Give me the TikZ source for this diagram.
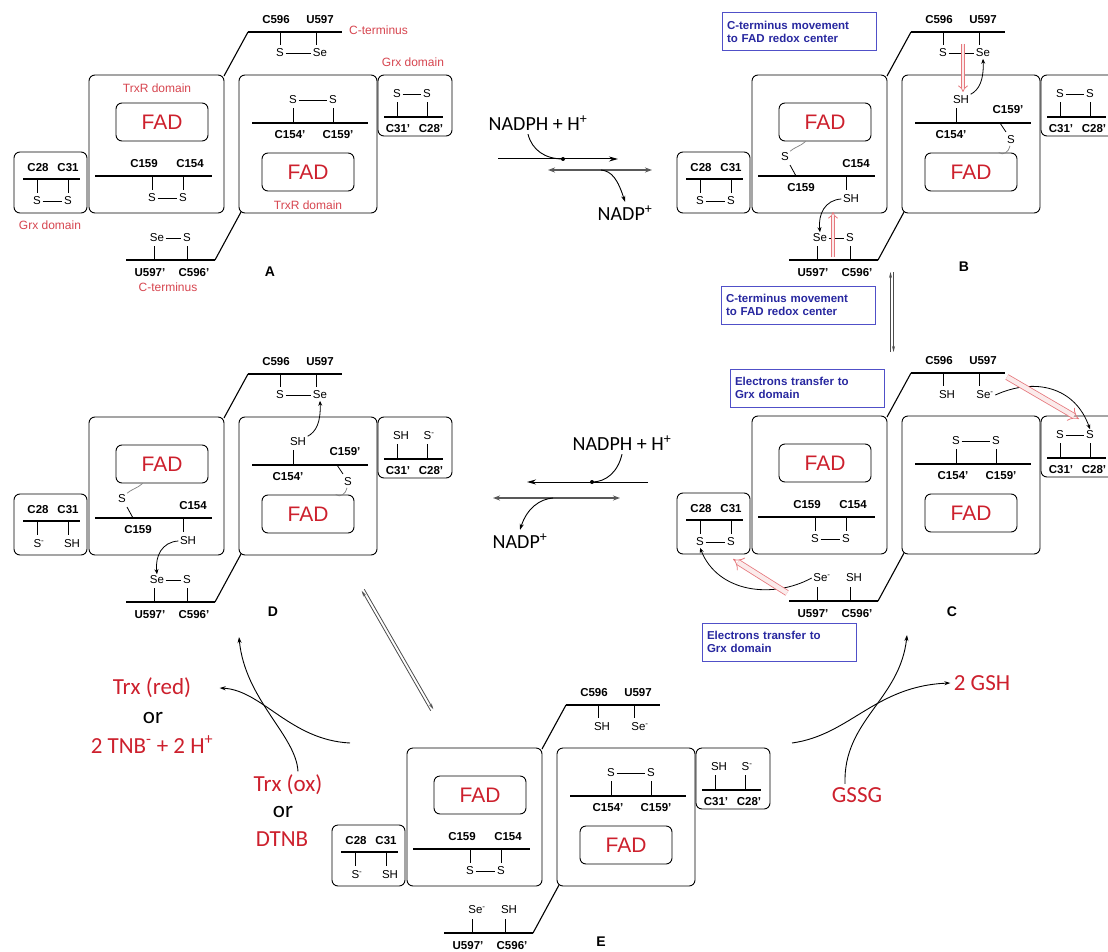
\documentclass[tikz,border=0pt]{standalone}
\usepackage{fontspec}
\setmainfont{Liberation Sans}
\newfontfamily\calfont{Carlito}
\usetikzlibrary{arrows.meta}

\definecolor{fadred}{RGB}{205,32,45}
\definecolor{lblred}{RGB}{215,70,80}
\definecolor{noteblue}{RGB}{80,80,200}
\definecolor{notetext}{RGB}{40,40,160}
\definecolor{movepink}{RGB}{230,120,125}

\tikzset{
  dom/.style={draw, rounded corners=6pt, line width=.9pt},
  fadbox/.style={draw, rounded corners=6pt, line width=.9pt, minimum width=92pt,
    minimum height=38pt, text=fadred, font=\fontsize{21}{21}\selectfont},
  bar/.style={line width=1.8pt},
  arm/.style={line width=1.1pt},
  tick/.style={line width=.8pt},
  res/.style={font=\fontsize{11.5}{12}\selectfont\bfseries, inner sep=0pt},
  atom/.style={font=\fontsize{11.5}{12}\selectfont, inner sep=1.5pt},
  domlbl/.style={font=\fontsize{12}{12}\selectfont, text=lblred, inner sep=0pt},
  stage/.style={font=\fontsize{14}{14}\selectfont\bfseries},
  note/.style={draw=noteblue, line width=1pt, text=notetext, align=left,
    font=\fontsize{11.5}{13}\selectfont\bfseries, text width=144pt, inner sep=5pt,
    minimum height=38pt},
  rxnlbl/.style={font=\calfont\fontsize{20}{22}\selectfont},
  chem/.style={font=\calfont\fontsize{23}{26}\selectfont, text=fadred},
  eflow/.style={line width=.8pt, -{Stealth[length=5pt,width=4pt]}},
  fadlink/.style={gray, line width=.7pt},
  move/.style={draw=movepink, double=movepink!15, line width=.8pt,
    double distance=2.6pt, -{Implies}},
  band/.style={move, double distance=4.5pt},
  rxn/.style={line width=1pt, -{Stealth[length=9pt,width=5pt]}},
  rxnrev/.style={line width=2pt, gray!70!black,
    {Stealth[length=7pt,width=5pt]}-{Stealth[length=7pt,width=5pt]}},
  curvy/.style={line width=.9pt, -{Stealth[length=6pt,width=4pt]}},
  eqm/.style={line width=.8pt, gray!60!black, -{Stealth[length=6pt,width=3pt]}}
}

% boxes, chains and fixed residue names of one enzyme dimer
\newcommand\panelframe[1]{%
  \draw[dom] (14,152) rectangle (87,213);
  \draw[dom] (89,75) rectangle (224,213);
  \draw[dom] (239,75) rectangle (377,213);
  \draw[dom] (378,75) rectangle (452,136);
  \node[fadbox] (#1lfad) at (162,122) {FAD};
  \node[fadbox] (#1rfad) at (308,172) {FAD};
  \draw[arm] (224,76) -- (248,32);
  \draw[arm] (241,212) -- (215,260);
  \draw[bar] (248,32) -- (342,32);
  \draw[bar] (126,260) -- (215,260);
  \draw[bar] (95,176) -- (212,176);
  \draw[bar] (252,123) -- (368,123);
  \draw[bar] (23,179) -- (80,179);
  \draw[bar] (384,117) -- (443,117);
  \draw[tick] (280,32) -- ++(0,13) (316,32) -- ++(0,13)
              (154,260) -- ++(0,-14) (187,260) -- ++(0,-14)
              (37,179) -- ++(0,14) (68,179) -- ++(0,14)
              (397,117) -- ++(0,-15) (427,117) -- ++(0,-15)
              (183,176) -- ++(0,14) (293,123) -- ++(0,-15);
  \node[res] (#1c596) at (276,20) {C596};
  \node[res] (#1u597) at (320,20) {U597};
  \node[res] (#1u597b) at (150,273) {U597'};
  \node[res] (#1c596b) at (194,273) {C596'};
  \node[res] (#1c28) at (38,168) {C28};
  \node[res] (#1c31) at (68,168) {C31};
  \node[res] (#1c31b) at (398,129) {C31'};
  \node[res] (#1c28b) at (431,129) {C28'};
}
% C159/C154 disulfide
\newcommand\lchainclosed[1]{%
  \draw[tick] (152,176) -- ++(0,14);
  \node[res] (#1c159) at (144,164) {C159};
  \node[res] (#1c154) at (190,164) {C154};
  \node[atom] (#1La) at (152,198) {S};
  \node[atom] (#1Lb) at (183,198) {S};
  \draw[tick] (#1La) -- (#1Lb);
}
\newcommand\rchainclosed[1]{%
  \draw[tick] (333,123) -- ++(0,-15);
  \node[res] (#1c154b) at (290,135) {C154'};
  \node[res] (#1c159b) at (338,135) {C159'};
  \node[atom] (#1Ra) at (293,100) {S};
  \node[atom] (#1Rb) at (333,100) {S};
  \draw[tick] (#1Ra) -- (#1Rb);
}
% C159 thiolate on FAD, C154 thiol
\newcommand\lchainopen[1]{%
  \draw[tick] (133,176) -- (127,165);
  \node[res] (#1c154) at (193,164) {C154};
  \node[res] (#1c159) at (138,188) {C159};
  \node[atom] (#1La) at (122,157) {S};
  \node[atom] (#1Lb) at (188,199) {SH};
  \draw[fadlink] (#1La) .. controls (130,148) and (138,146) .. (#1lfad.225);
}
\newcommand\rchainopen[1]{%
  \draw[tick] (337,123) -- (343,132);
  \node[res] (#1c159b) at (345,110) {C159'};
  \node[res] (#1c154b) at (288,135) {C154'};
  \node[atom] (#1Ra) at (298,100) {SH};
  \node[atom] (#1Rb) at (348,140) {S};
  \draw[fadlink] (#1Rb) .. controls (346,152) and (340,156) .. (#1rfad.35);
}

\begin{document}
\begin{tikzpicture}[x=1pt, y=-1pt]
\useasboundingbox (0,0) rectangle (1108,952);
\fill[white] (0,0) rectangle (1108,952);

% ---- A
\begin{scope}
  \panelframe{a}
  \lchainclosed{a}
  \rchainclosed{a}
  \node[atom] (aTa) at (280,53) {S};
  \node[atom] (aTb) at (320,53) {Se};
  \node[atom] (aGa) at (37,201) {S};
  \node[atom] (aGb) at (68,201) {S};
  \node[atom] (aHa) at (397,94) {S};
  \node[atom] (aHb) at (427,94) {S};
  \node[atom] (aBa) at (157,238) {Se};
  \node[atom] (aBb) at (187,238) {S};
  \draw[tick] (aTa) -- (aTb) (aGa) -- (aGb) (aHa) -- (aHb) (aBa) -- (aBb);
  \node[domlbl, anchor=west] (actop) at (349,30) {C-terminus};
  \node[domlbl] (agrxr) at (413,62) {Grx domain};
  \node[domlbl] (atrxl) at (157,88) {TrxR domain};
  \node[domlbl] (atrxr) at (308,205) {TrxR domain};
  \node[domlbl] (agrxl) at (50,225) {Grx domain};
  \node[domlbl] (actbot) at (168,287) {C-terminus};
  \node[stage] (stA) at (270,272) {A};
\end{scope}

% ---- B
\begin{scope}[shift={(663,0)}]
  \panelframe{b}
  \lchainopen{b}
  \rchainopen{b}
  \node[atom] (bTa) at (280,53) {S};
  \node[atom] (bTb) at (320,53) {Se};
  \node[atom] (bGa) at (37,201) {S};
  \node[atom] (bGb) at (68,201) {S};
  \node[atom] (bHa) at (397,94) {S};
  \node[atom] (bHb) at (427,94) {S};
  \node[atom] (bBa) at (157,238) {Se};
  \node[atom] (bBb) at (187,238) {S};
  \draw[tick] (bTa) -- (bTb) (bGa) -- (bGb) (bHa) -- (bHb) (bBa) -- (bBb);
  \draw[eflow] (bRa.north east) .. controls (316,90) and (321,80) .. (bTb.south);
  \draw[eflow] (bLb.west) .. controls (162,200) and (155,214) .. (bBa.north);
  \coordinate (bmv0) at (300,44);
  \coordinate (bmv1) at (300,92);
  \coordinate (bmv2) at (170,257);
  \coordinate (bmv3) at (170,212);
  \draw[move] (bmv0) -- (bmv1);
  \draw[move] (bmv2) -- (bmv3);
  \node[stage] (stB) at (301,267) {B};
\end{scope}

% ---- C
\begin{scope}[shift={(663,341)}]
  \panelframe{c}
  \lchainclosed{c}
  \rchainclosed{c}
  \node[atom] (cTa) at (284,54) {SH};
  \node[atom] (cTb) at (322,54) {Se\textsuperscript{-}};
  \node[atom] (cGa) at (37,201) {S};
  \node[atom] (cGb) at (68,201) {S};
  \node[atom] (cHa) at (397,94) {S};
  \node[atom] (cHb) at (427,94) {S};
  \node[atom] (cBa) at (159,237) {Se\textsuperscript{-}};
  \node[atom] (cBb) at (191,237) {SH};
  \draw[tick] (cGa) -- (cGb) (cHa) -- (cHb);
  \draw[eflow] (cTb.east) .. controls (372,36) and (412,46) .. (cHb.north);
  \draw[eflow] (cBa.west) .. controls (110,258) and (55,252) .. (cGa.south);
  \coordinate (cmv0) at (344,36);
  \coordinate (cmv1) at (416,78);
  \coordinate (cmv2) at (124,252);
  \coordinate (cmv3) at (70,218);
  \draw[band] (cmv0) -- (cmv1);
  \draw[band] (cmv2) -- (cmv3);
  \node[stage] (stC) at (289,271) {C};
\end{scope}

% ---- D
\begin{scope}[shift={(0,342)}]
  \panelframe{d}
  \lchainopen{d}
  \rchainopen{d}
  \node[atom] (dTa) at (280,53) {S};
  \node[atom] (dTb) at (320,53) {Se};
  \node[atom] (dGa) at (39,202) {S\textsuperscript{-}};
  \node[atom] (dGb) at (72,202) {SH};
  \node[atom] (dHa) at (401,94) {SH};
  \node[atom] (dHb) at (429,94) {S\textsuperscript{-}};
  \node[atom] (dBa) at (157,238) {Se};
  \node[atom] (dBb) at (187,238) {S};
  \draw[tick] (dTa) -- (dTb) (dBa) -- (dBb);
  \draw[eflow] (dRa.north east) .. controls (316,90) and (321,80) .. (dTb.south);
  \draw[eflow] (dLb.west) .. controls (162,200) and (155,214) .. (dBa.north);
  \node[stage] (stD) at (273,270) {D};
\end{scope}

% ---- E
\begin{scope}[shift={(318,673)}]
  \panelframe{e}
  \lchainclosed{e}
  \rchainclosed{e}
  \node[atom] (eTa) at (284,54) {SH};
  \node[atom] (eTb) at (322,54) {Se\textsuperscript{-}};
  \node[atom] (eGa) at (39,202) {S\textsuperscript{-}};
  \node[atom] (eGb) at (72,202) {SH};
  \node[atom] (eHa) at (401,94) {SH};
  \node[atom] (eHb) at (429,94) {S\textsuperscript{-}};
  \node[atom] (eBa) at (159,237) {Se\textsuperscript{-}};
  \node[atom] (eBb) at (191,237) {SH};
  \node[stage] (stE) at (283,269) {E};
\end{scope}

% ---- notes
\node[note] (noteB) at (799,32) {C-terminus movement\\to FAD redox center};
\node[note] (noteC1) at (798,305) {C-terminus movement\\to FAD redox center};
\node[note] (noteC2) at (807,388) {Electrons transfer to\\Grx domain};
\node[note] (noteC3) at (779,642) {Electrons transfer to\\Grx domain};

% ---- A to B
\node[rxnlbl] (nadphA) at (538,123) {NADPH + H\textsuperscript{+}};
\node[rxnlbl] (nadpA) at (625,213) {NADP\textsuperscript{+}};
\coordinate (fwdA0) at (498,159);
\coordinate (fwdA1) at (618,159);
\coordinate (revA0) at (548,170);
\coordinate (revA1) at (652,170);
\coordinate (joinA) at (563,159);
\coordinate (leaveA) at (601,170);
\draw[rxn] (fwdA0) -- (fwdA1);
\draw[rxnrev] (revA0) -- (revA1);
\draw[line width=.9pt] ([xshift=-10pt]nadphA.south) .. controls (532,150) and (545,159) .. (joinA);
\fill (joinA) circle (2pt);
\draw[curvy] (leaveA) .. controls (612,171) and (618,180) .. (nadpA.north);

% ---- C to D
\node[rxnlbl] (nadphD) at (622,443) {NADPH + H\textsuperscript{+}};
\node[rxnlbl] (nadpD) at (520,541) {NADP\textsuperscript{+}};
\coordinate (fwdD0) at (648,482);
\coordinate (fwdD1) at (527,482);
\coordinate (revD0) at (493,498);
\coordinate (revD1) at (620,498);
\coordinate (joinD) at (592,482);
\coordinate (leaveD) at (553,498);
\draw[rxn] (fwdD0) -- (fwdD1);
\draw[rxnrev] (revD0) -- (revD1);
\draw[line width=.9pt] (nadphD.south) .. controls (618,472) and (606,482) .. (joinD);
\fill (joinD) circle (2pt);
\draw[curvy] (leaveD) .. controls (540,499) and (527,508) .. (nadpD.north);

% ---- B to C, D to E
\coordinate (bcTop) at (892,272);
\coordinate (bcBot) at (892,352);
\draw[eqm] ([xshift=-1.5pt]bcBot) -- ([xshift=-1.5pt]bcTop);
\draw[eqm] ([xshift=1.5pt]bcTop) -- ([xshift=1.5pt]bcBot);
\coordinate (deTop) at (363,590);
\coordinate (deBot) at (432,710);
\draw[eqm] ([shift={(-1.3pt,-.75pt)}]deBot) -- ([shift={(-1.3pt,-.75pt)}]deTop);
\draw[eqm] ([shift={(1.3pt,.75pt)}]deTop) -- ([shift={(1.3pt,.75pt)}]deBot);

% ---- Trx / DTNB side
\node[chem] (trxred) at (152,688) {Trx (red)};
\node[chem, text=black] (orA) at (153,718) {or};
\node[chem] (tnb) at (152,745) {2 TNB\textsuperscript{-} + 2 H\textsuperscript{+}};
\node[chem] (trxox) at (288,785) {Trx (ox)};
\node[chem, text=black] (orB) at (283,812) {or};
\node[chem] (dtnb) at (282,839) {DTNB};
\coordinate (eLeft) at (350,743);
\coordinate (dUp) at (239,637);
\draw[curvy] (eLeft) .. controls (290,740) and (262,690) .. ([xshift=25pt]trxred.east);
\draw[curvy] ([xshift=10pt]trxox.north) .. controls (296,735) and (245,700) .. (dUp);

% ---- GSSG side
\node[chem] (gssg) at (857,795) {GSSG};
\node[chem] (gsh) at (982,683) {2 GSH};
\coordinate (eRight) at (792,743);
\coordinate (cUp) at (907,635);
\draw[curvy] (eRight) .. controls (850,735) and (875,686) .. (gsh.west);
\draw[curvy] ([xshift=-12pt]gssg.north) .. controls (843,720) and (900,700) .. (cUp);
\end{tikzpicture}
\end{document}
